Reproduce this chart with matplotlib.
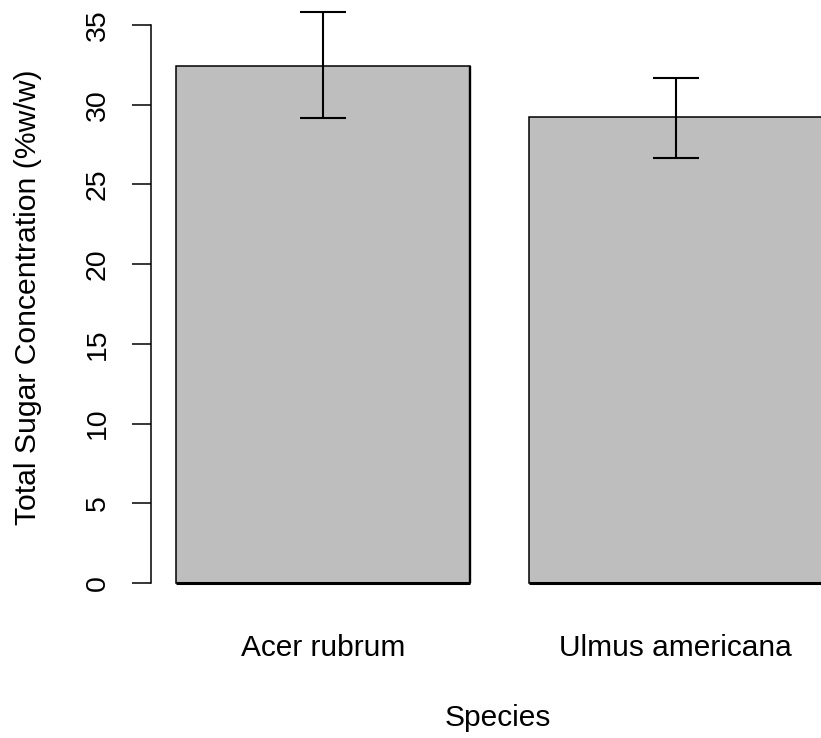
#!/usr/bin/env python3
"""Total sugar concentration by species (bar chart with error bars)."""

import matplotlib
matplotlib.use("Agg")
import matplotlib.pyplot as plt
import numpy as np

species = ["Acer rubrum", "Ulmus americana"]
mean_sugar = [32.4, 29.2]
err_low = [29.15, 26.65]
err_high = [35.8, 31.65]
y_ticks = [0, 5, 10, 15, 20, 25, 30, 35]

plt.rcParams["font.family"] = ["Liberation Sans", "DejaVu Sans"]

W, H = 821, 738
fig = plt.figure(figsize=(W / 100, H / 100), dpi=100)

# axes geometry in pixels (R-like plot region that runs past the right edge)
ax_left, ax_right, ax_bottom, ax_top = 151, 821, 600, 0
ax = fig.add_axes([ax_left / W, 1 - ax_bottom / H,
                   (ax_right - ax_left) / W, (ax_bottom - ax_top) / H])

px_x = 294.0               # pixels per bar-width unit
px_y = (583 - 25) / 35.0   # pixels per y unit
x0 = 0.2 - 25 / px_x
ax.set_xlim(x0, x0 + (ax_right - ax_left) / px_x)
ax.set_ylim(-(ax_bottom - 583) / px_y, (583 - ax_top) / px_y)

# R barplot layout: width 1, space 0.2
width = 1.0
lefts = 0.2 + np.arange(len(species)) * 1.2
centers = lefts + width / 2

ax.bar(lefts, mean_sugar, width=width, align="edge", color="#bebebe",
       edgecolor="black", linewidth=1.1, zorder=2)
for l, h in zip(lefts, mean_sugar):
    ax.hlines(0, l, l + width, colors="black", linewidth=2.2, zorder=3)
    ax.vlines(l + width, 0, h, colors="black", linewidth=1.7, zorder=3)

mean_arr = np.array(mean_sugar)
yerr = np.vstack([mean_arr - np.array(err_low), np.array(err_high) - mean_arr])
ax.errorbar(centers, mean_arr, yerr=yerr, fmt="none", ecolor="black",
            elinewidth=1.5, capsize=16.5, capthick=1.5, zorder=4)

for side in ["top", "right", "bottom"]:
    ax.spines[side].set_visible(False)
ax.spines["left"].set_bounds(0, 35)
ax.spines["left"].set_linewidth(1.1)

ax.set_yticks(y_ticks)
ax.set_yticklabels([str(t) for t in y_ticks], rotation=90, va="center")
ax.tick_params(axis="y", length=13.7, width=1.1, pad=15.5, labelsize=20.5)

ax.set_xticks(centers)
ax.set_xticklabels(species)
ax.tick_params(axis="x", length=0, pad=24.5, labelsize=21.5)

ax.set_xlabel("Species", fontsize=21.5)
ax.xaxis.set_label_coords((498 - ax_left) / (ax_right - ax_left),
                          (ax_bottom - 704) / (ax_bottom - ax_top))
ax.set_ylabel("Total Sugar Concentration (%w/w)", fontsize=21.7)
ax.yaxis.set_label_coords((42 - ax_left) / (ax_right - ax_left),
                          (ax_bottom - 297) / (ax_bottom - ax_top))

fig.savefig("out.png", dpi=100)
plt.close(fig)
